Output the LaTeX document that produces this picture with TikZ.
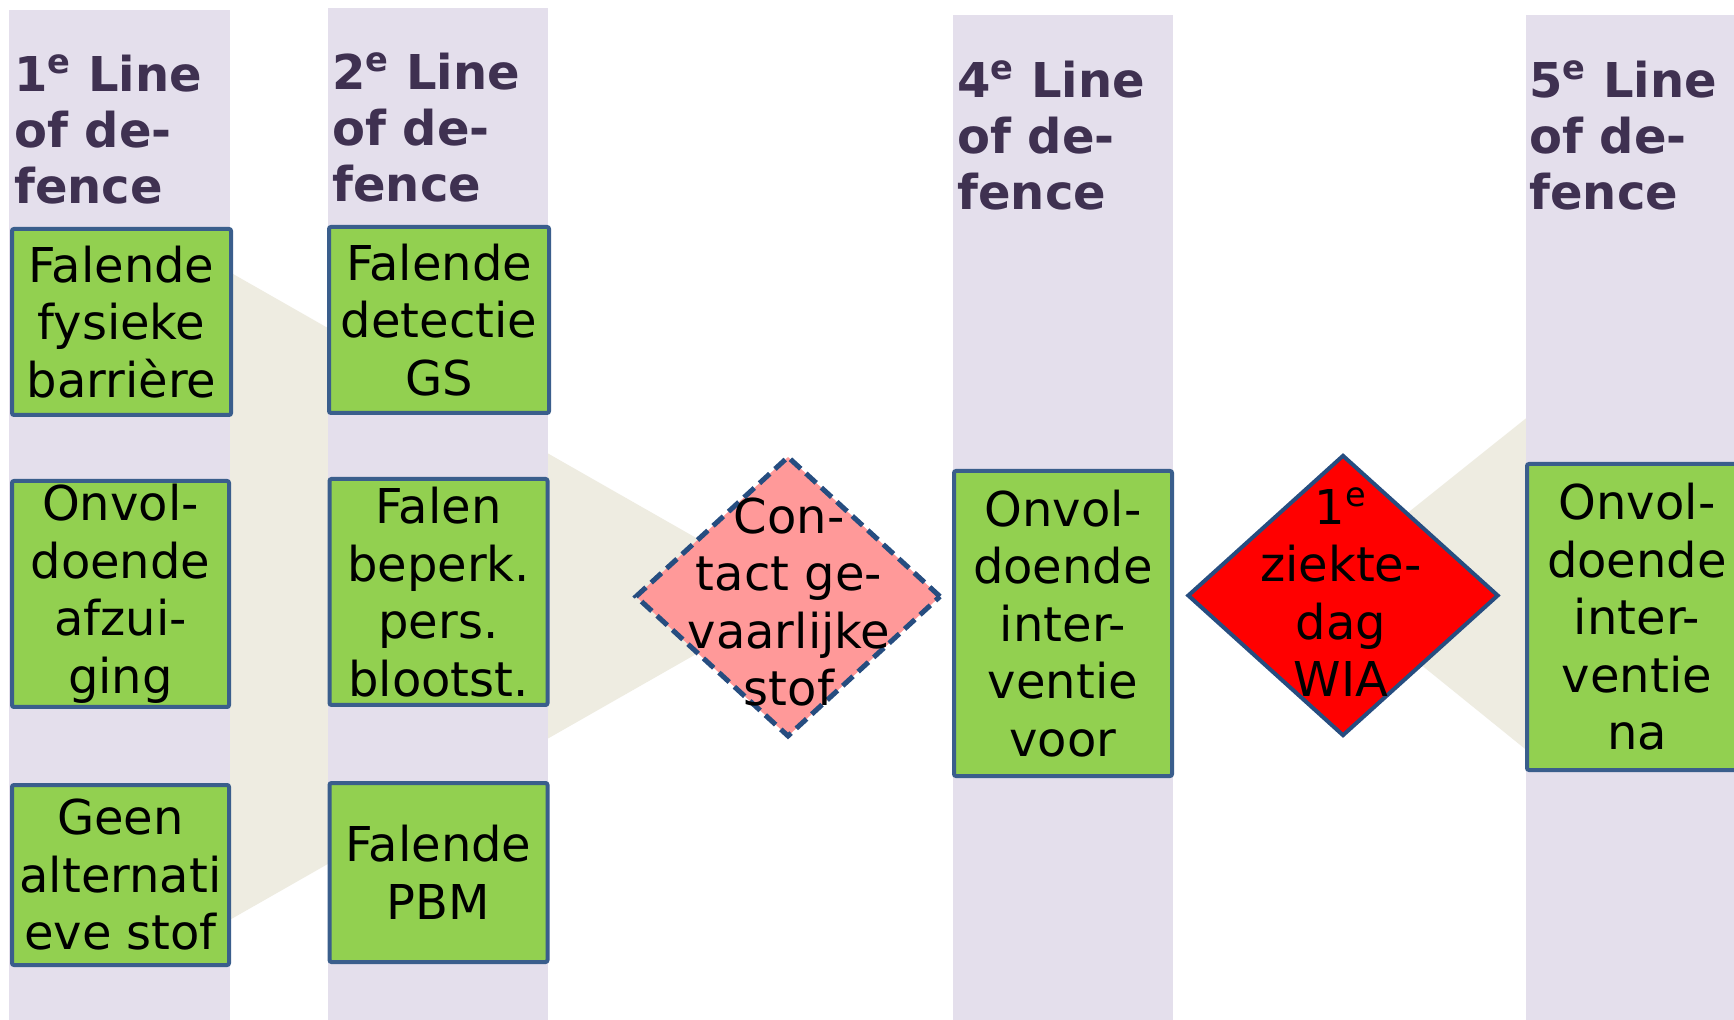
\documentclass[tikz,border=0pt]{standalone}
\usepackage{fontspec}
\setmainfont{DejaVu Sans}
\usetikzlibrary{shapes.geometric}
\definecolor{band}{HTML}{E4DFEC}
\definecolor{beige}{HTML}{EEECE1}
\definecolor{boxgreen}{HTML}{92D050}
\definecolor{boxline}{HTML}{3A5E8C}
\definecolor{headtxt}{HTML}{3F3151}
\definecolor{pinkfill}{HTML}{FF9999}
\definecolor{dline}{HTML}{264D80}
\definecolor{redfill}{HTML}{FF0000}
\begin{document}
\begin{tikzpicture}[x=0.5pt,y=-0.5pt,
  bandstyle/.style={fill=band, draw=none},
  funnel/.style={fill=beige, draw=none},
  greenbox/.style={draw=boxline, line width=2pt, fill=boxgreen, rounded corners=1pt,
     align=center, inner sep=0pt, font=\fontsize{24}{28.75}\selectfont},
  header/.style={anchor=north west, align=left, text=headtxt, inner sep=0pt,
     font=\bfseries\fontsize{24}{28}\selectfont},
  dtext/.style={align=center, inner sep=0pt, font=\fontsize{24}{28.75}\selectfont},
  contactdiamond/.style={diamond, draw=dline, line width=2.5pt, fill=pinkfill,
     dash pattern=on 7pt off 3.5pt, inner sep=0pt, minimum width=153pt, minimum height=140.5pt},
  wiadiamond/.style={diamond, draw=dline, line width=2pt, fill=redfill,
     inner sep=0pt, minimum width=155.5pt, minimum height=140.5pt}
]
\useasboundingbox (0,0) rectangle (1734,1020);
\fill[white] (0,0) rectangle (1734,1020);

% funnel backgrounds
\fill[funnel] (12,148) -- (798,596) -- (12,1044) -- cycle;
\fill[funnel] (1320,583) -- (1734,252) -- (1734,918) -- cycle;

% column bands
\fill[bandstyle] (9,10) rectangle (230,1020);
\fill[bandstyle] (328,8) rectangle (548,1020);
\fill[bandstyle] (953,15) rectangle (1173,1020);
\fill[bandstyle] (1526,15) rectangle (1734,1020);

% headers
\node[header] (h1) at (14,54) {1\textsuperscript{e} Line\\of de-\\fence};
\node[header] (h2) at (332,52) {2\textsuperscript{e} Line\\of de-\\fence};
\node[header] (h4) at (957,60) {4\textsuperscript{e} Line\\of de-\\fence};
\node[header] (h5) at (1529,60) {5\textsuperscript{e} Line\\of de-\\fence};

% column 1
\node[greenbox, minimum width=109.5pt, minimum height=93pt] (a1) at (121.5,322) {Falende\\fysieke\\barrière};
\node[greenbox, minimum width=108.5pt, minimum height=113pt] (a2) at (120.5,594) {Onvol-\\doende\\afzui-\\ging};
\node[greenbox, minimum width=108.5pt, minimum height=90pt] (a3) at (120.5,875) {Geen\\alternati\\eve stof};

% column 2
\node[greenbox, minimum width=110pt, minimum height=93pt] (b1) at (439,320) {Falende\\detectie\\GS};
\node[greenbox, minimum width=109pt, minimum height=113pt] (b2) at (438.5,592) {Falen\\beperk.\\pers.\\blootst.};
\node[greenbox, minimum width=109pt, minimum height=89.5pt] (b3) at (438.5,872.5) {Falende\\PBM};

% contact diamond
\node[contactdiamond] (d1) at (788,596.5) {};
\node[dtext] (d1t) at (789,602) {Con-\\tact ge-\\vaarlijke\\stof};

% column 4
\node[greenbox, minimum width=109pt, minimum height=152.5pt] (c1) at (1063,623.5) {Onvol-\\doende\\inter-\\ventie\\voor};

% WIA diamond
\node[wiadiamond] (d2) at (1343,595.5) {};
\node[dtext] (d2t) at (1341,592) {1\textsuperscript{e}\\ziekte-\\dag\\WIA};

% column 5
\node[greenbox, minimum width=110pt, minimum height=153pt] (e1) at (1637,617) {Onvol-\\doende\\inter-\\ventie\\na};
\end{tikzpicture}
\end{document}
